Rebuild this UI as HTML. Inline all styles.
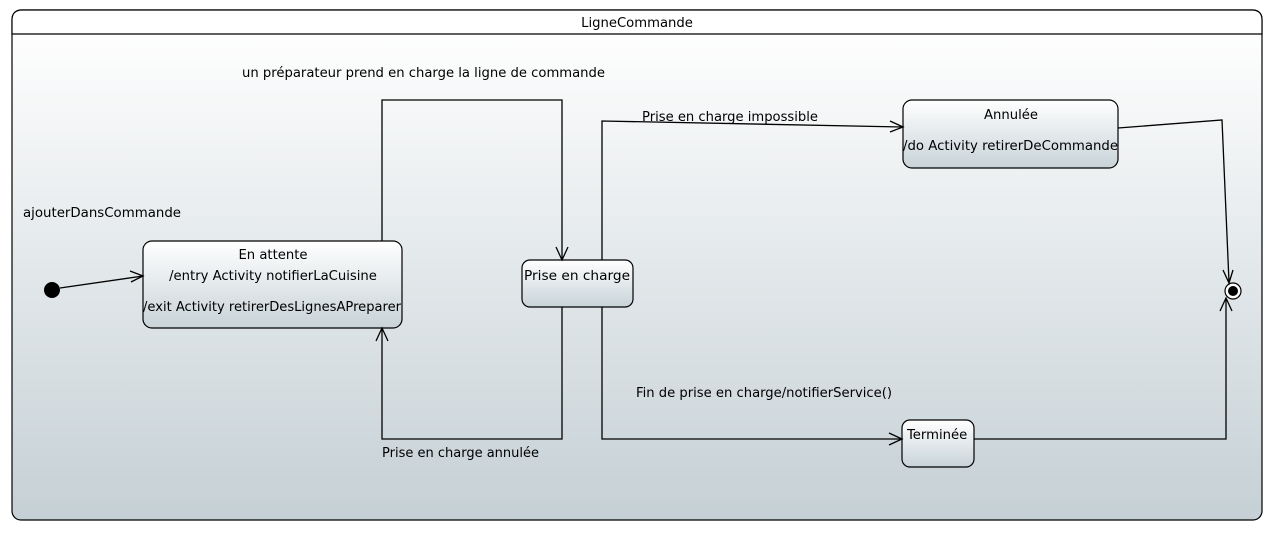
<!DOCTYPE html>
<html><head><meta charset="utf-8"><style>
body{margin:0;width:1273px;height:531px;background:#fff;overflow:hidden}
text{font-family:"DejaVu Sans","Liberation Sans",sans-serif;font-size:13.2px;fill:#000}
</style></head><body>
<svg width="1273" height="531" viewBox="0 0 1273 531" xmlns="http://www.w3.org/2000/svg">
<defs>
<linearGradient id="bg" x1="0" y1="0" x2="0" y2="1"><stop offset="0" stop-color="#fefefe"/><stop offset="1" stop-color="#c5d0d5"/></linearGradient>
<linearGradient id="nd" x1="0" y1="0" x2="0" y2="1"><stop offset="0" stop-color="#ffffff"/><stop offset="1" stop-color="#c8d3d8"/></linearGradient>
</defs>
<path d="M12,34 H1262 V512 Q1262,520 1254,520 H20 Q12,520 12,512 Z" fill="url(#bg)"/>
<rect x="12" y="10" width="1250" height="510" rx="9" fill="none" stroke="#000" stroke-width="1.2"/>
<path d="M22,10 H1252 Q1262,10 1262,20 V34 H12 V20 Q12,10 22,10Z" fill="#fff" stroke="#000" stroke-width="1.2"/>
<text x="637" y="27" text-anchor="middle">LigneCommande</text>
<g fill="url(#nd)" stroke="#000" stroke-width="1.2">
<rect x="143" y="241" width="259" height="87" rx="9"/>
<rect x="522" y="260" width="111" height="47" rx="8"/>
<rect x="903" y="100" width="215" height="68" rx="9"/>
<rect x="902" y="420" width="72" height="47" rx="8"/>
</g>
<text x="273" y="259" text-anchor="middle">En attente</text>
<text x="273" y="280" text-anchor="middle">/entry Activity notifierLaCuisine</text>
<text x="143" y="311" textLength="258" lengthAdjust="spacingAndGlyphs">/exit Activity retirerDesLignesAPreparer</text>
<text x="577" y="280" text-anchor="middle" textLength="106" lengthAdjust="spacingAndGlyphs">Prise en charge</text>
<text x="1011" y="119" text-anchor="middle">Annulée</text>
<text x="903" y="150" textLength="215" lengthAdjust="spacingAndGlyphs">/do Activity retirerDeCommande</text>
<text x="907" y="439">Terminée</text>
<circle cx="52" cy="290" r="8" fill="#000"/>
<circle cx="1233" cy="291" r="8" fill="#fff" stroke="#000" stroke-width="1.2"/>
<circle cx="1233" cy="291" r="5" fill="#000"/>
<g fill="none" stroke="#000" stroke-width="1.3">
<path d="M60,288 L143,276 M130,271 L143,276 L131,282"/>
<path d="M382,241 V100 H562 V260 M556,247 L562,260 L568,247"/>
<path d="M562,307 V439 H382 V328 M376,341 L382,328 L388,341"/>
<path d="M602,260 V121 L903,127 M890,121 L903,127 L890,132"/>
<path d="M602,307 V439 H902 M889,433 L902,439 L889,445"/>
<path d="M1118,128 L1222,120 L1229,282 M1223,270 L1229,283 L1233,270"/>
<path d="M974,439 H1226 V298 M1220,311 L1226,298 L1232,311"/>
</g>
<text x="242" y="77" textLength="363" lengthAdjust="spacingAndGlyphs">un préparateur prend en charge la ligne de commande</text>
<text x="23" y="217" textLength="158" lengthAdjust="spacingAndGlyphs">ajouterDansCommande</text>
<text x="642" y="121" textLength="176" lengthAdjust="spacingAndGlyphs">Prise en charge impossible</text>
<text x="636" y="397" textLength="256" lengthAdjust="spacingAndGlyphs">Fin de prise en charge/notifierService()</text>
<text x="382" y="457" textLength="157" lengthAdjust="spacingAndGlyphs">Prise en charge annulée</text>
</svg>
</body></html>
